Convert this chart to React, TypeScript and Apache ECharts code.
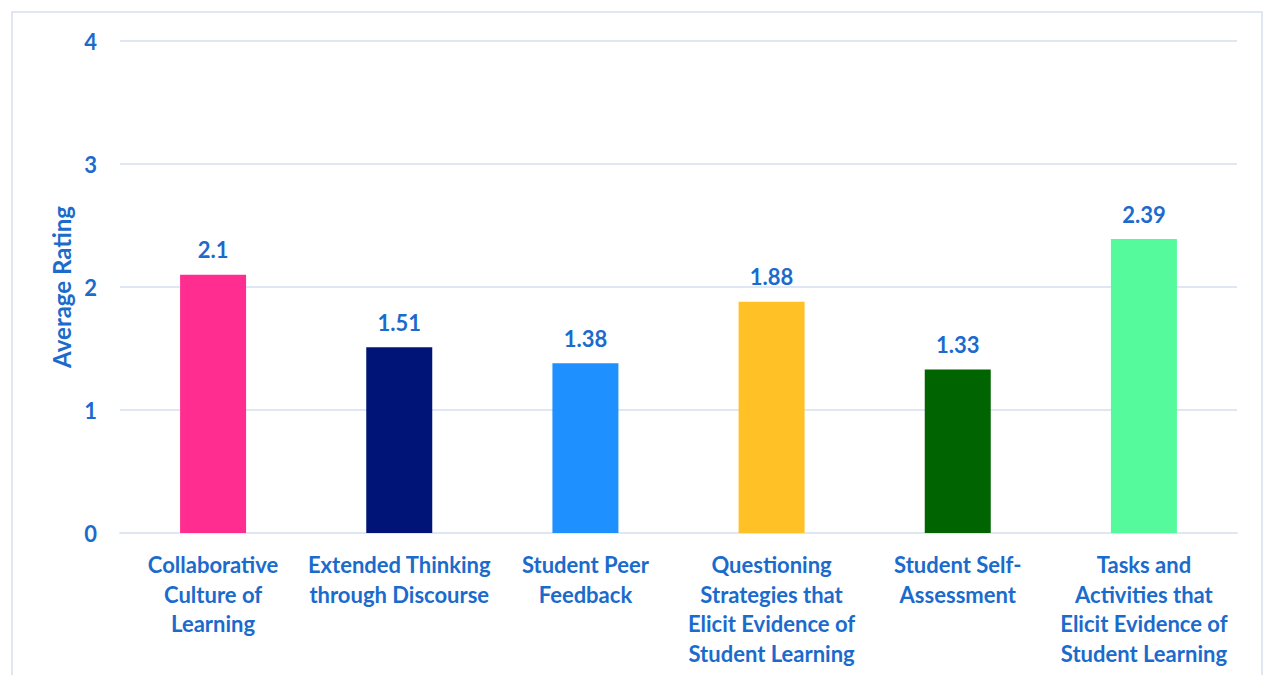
import React, { useEffect, useRef } from "react";
import * as echarts from "echarts";

const categories = [
  "Collaborative\nCulture of\nLearning",
  "Extended Thinking\nthrough Discourse",
  "Student Peer\nFeedback",
  "Questioning\nStrategies that\nElicit Evidence of\nStudent Learning",
  "Student Self-\nAssessment",
  "Tasks and\nActivities that\nElicit Evidence of\nStudent Learning",
];
const values = [2.1, 1.51, 1.38, 1.88, 1.33, 2.39];
const barColors = ["#FF2D8F", "#001478", "#1E90FF", "#FFC125", "#006400", "#54FA9B"];
const yTicks = [0, 1, 2, 3, 4];

const TEXT = "#1B6BCC";
const FONT = "Lato";

export default function App() {
  const ref = useRef<HTMLDivElement>(null);
  useEffect(() => {
    const chart = echarts.init(ref.current!, null, { renderer: "svg" });
    chart.setOption({
      animation: false,
      backgroundColor: "#ffffff",
      graphic: [
        {
          type: "rect",
          shape: { x: 12, y: 12, width: 1250, height: 700 },
          style: { fill: "none", stroke: "#DFE8F2", lineWidth: 2 },
          silent: true,
        },
      ],
      grid: { left: 120, right: 26, top: 41, bottom: 142 },
      xAxis: {
        type: "category",
        data: categories,
        axisLine: { show: true, lineStyle: { color: "#DFE8F2", width: 2 } },
        axisTick: { show: false },
        axisLabel: {
          interval: 0,
          color: TEXT,
          fontFamily: FONT,
          fontWeight: "bold",
          fontSize: 22,
          lineHeight: 29.5,
          margin: 17,
          align: "center",
        },
      },
      yAxis: {
        type: "value",
        min: 0,
        max: yTicks[yTicks.length - 1],
        interval: 1,
        name: "Average Rating",
        nameLocation: "middle",
        nameGap: 46,
        nameTextStyle: { color: TEXT, fontFamily: FONT, fontWeight: "bold", fontSize: 24 },
        axisLine: { show: false },
        axisTick: { show: false },
        splitLine: { lineStyle: { color: "#DFE8F2", width: 2 } },
        axisLabel: {
          color: TEXT,
          fontFamily: FONT,
          fontWeight: "bold",
          fontSize: 22,
          margin: 23,
        },
      },
      series: [
        {
          type: "bar",
          data: values.map((v, i) => ({ value: v, itemStyle: { color: barColors[i] } })),
          barWidth: 66,
          label: {
            show: true,
            position: "top",
            distance: 14,
            color: TEXT,
            fontFamily: FONT,
            fontWeight: "bold",
            fontSize: 22,
          },
        },
      ],
    });
    return () => chart.dispose();
  }, []);
  return (
    <div
      ref={ref}
      style={{ position: "fixed", left: 0, top: 0, width: 1263, height: 675 }}
    />
  );
}
